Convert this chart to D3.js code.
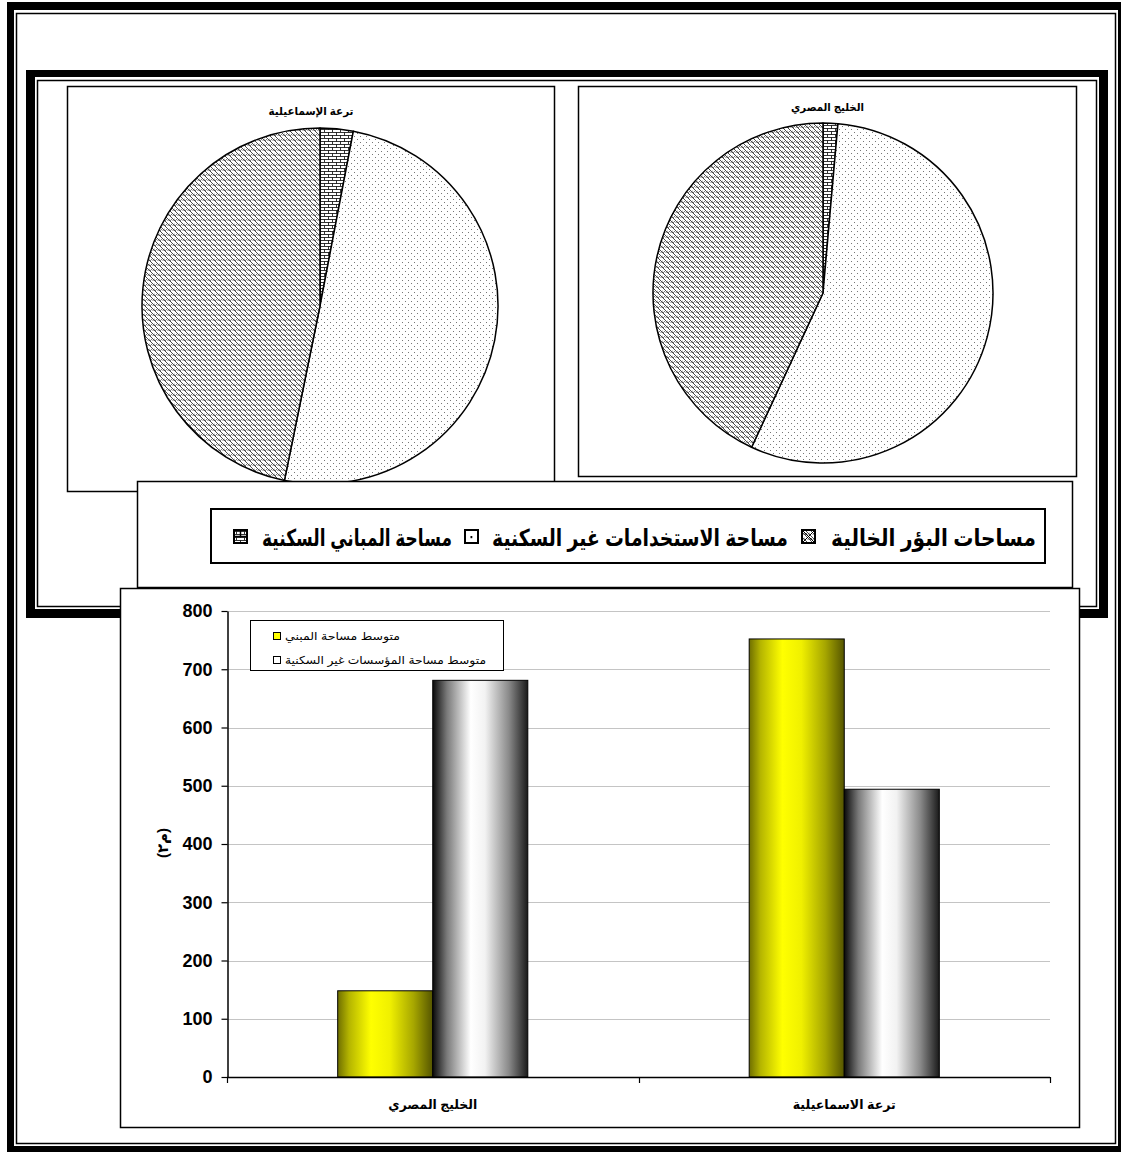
<!DOCTYPE html>
<html><head><meta charset="utf-8">
<script src="https://cdn.jsdelivr.net/npm/d3@7"></script>
<style>body{margin:0;background:#fff} svg{display:block}</style>
</head><body><svg id="c" width="1123" height="1154"></svg>
<script>
// ---------- data ----------
const pieTitles = ["ترعة الإسماعيلية", "الخليج المصري"];
const pieKeys = ["residential", "nonResidential", "vacant"];
const pieLegendLabels = ["مساحات البؤر الخالية", "مساحة الاستخدامات غير السكنية", "مساحة المباني السكنية"];
const ismailiaShares = [3.0, 50.2, 46.8];   // residential, non-residential, vacant (%)
const khaligShares = [1.4, 55.5, 43.1];
const barCategories = ["الخليج المصري", "ترعة الاسماعيلية"];
const barSeries = ["متوسط مساحة المبني", "متوسط مساحة المؤسسات غير السكنية"];
const avgBuilding = [148, 752];
const avgNonResidential = [681, 494];
const yTicks = [0, 100, 200, 300, 400, 500, 600, 700, 800];
const yLabel = "(م٢)";

const FONT = "Arial, 'Liberation Sans', 'DejaVu Sans', sans-serif";
const svg = d3.select("#c");
const defs = svg.append("defs");

// ---------- patterns ----------
const pBrick = defs.append("pattern").attr("id", "brick").attr("patternUnits", "userSpaceOnUse").attr("width", 8).attr("height", 6);
pBrick.append("rect").attr("width", 8).attr("height", 6).attr("fill", "#fff");
pBrick.append("path").attr("d", "M0,0.5H8M0,3.5H8M0.5,0.5V3.5M4.5,3.5V6").attr("stroke", "#000").attr("stroke-width", 0.8).attr("fill", "none");

const pDots = defs.append("pattern").attr("id", "dots").attr("patternUnits", "userSpaceOnUse").attr("width", 6).attr("height", 6);
pDots.append("rect").attr("width", 6).attr("height", 6).attr("fill", "#fff");
pDots.append("rect").attr("x", 1).attr("y", 1).attr("width", 1).attr("height", 1).attr("fill", "#777");
pDots.append("rect").attr("x", 4).attr("y", 4).attr("width", 1).attr("height", 1).attr("fill", "#777");

const pWeave = defs.append("pattern").attr("id", "weave").attr("patternUnits", "userSpaceOnUse").attr("width", 5).attr("height", 5);
pWeave.append("rect").attr("width", 5).attr("height", 5).attr("fill", "#fff");
pWeave.append("path").attr("d", "M0,0L5,5M-1,4L1,6M4,-1L6,1").attr("stroke", "#333").attr("stroke-width", 0.9);
pWeave.append("path").attr("d", "M0,5L2.5,2.5M2.5,5L5,2.5").attr("stroke", "#555").attr("stroke-width", 0.8);

const patternFor = {residential: "url(#brick)", nonResidential: "url(#dots)", vacant: "url(#weave)"};

// gradients for bars
function grad(id, stops) {
  const g = defs.append("linearGradient").attr("id", id).attr("x1", 0).attr("x2", 1).attr("y1", 0).attr("y2", 0);
  stops.forEach(s => g.append("stop").attr("offset", s[0]).attr("stop-color", s[1]));
}
grad("gY", [["0%", "#6f6f00"], ["12%", "#b5b500"], ["35%", "#ffff00"], ["55%", "#f0f000"], ["80%", "#a6a600"], ["100%", "#555500"]]);
grad("gG", [["0%", "#0a0a0a"], ["15%", "#7a7a7a"], ["40%", "#ffffff"], ["55%", "#f2f2f2"], ["80%", "#8a8a8a"], ["100%", "#1a1a1a"]]);

// ---------- frames ----------
const frame = svg.append("g");
function fillRect(x, y, w, h) { frame.append("rect").attr("x", x).attr("y", y).attr("width", w).attr("height", h).attr("fill", "#000"); }
function strokeRect(x, y, w, h, sw) { frame.append("rect").attr("x", x).attr("y", y).attr("width", w).attr("height", h).attr("fill", "none").attr("stroke", "#000").attr("stroke-width", sw); }
// outer
fillRect(7, 2, 1114, 8); fillRect(7, 2, 7, 1150); fillRect(7, 1146, 1114, 6); fillRect(1118, 2, 3, 1150);
strokeRect(16.5, 13.5, 1099, 1130, 1.5);
// inner
fillRect(26, 70, 1082, 7); fillRect(26, 70, 9, 548); fillRect(1099, 70, 9, 548); fillRect(26, 609, 1082, 9);
strokeRect(37.5, 80.5, 1059, 526, 1.5);

function panel(x, y, w, h, sw) {
  svg.append("rect").attr("x", x).attr("y", y).attr("width", w).attr("height", h)
    .attr("fill", "#fff").attr("stroke", "#000").attr("stroke-width", sw);
}

// ---------- pies ----------
const pieGen = d3.pie().sort(null).value(d => d.v);
const pies = [
  {title: pieTitles[0], shares: ismailiaShares, box: [67.5, 86.5, 487, 405], c: [320, 306], r: 178, tw: 85, ty: 115},
  {title: pieTitles[1], shares: khaligShares, box: [578.5, 86.5, 498, 390], c: [823, 293], r: 170, tw: 73, ty: 111}
];
pies.forEach(p => {
  panel(...p.box, 1.5);
  const g = svg.append("g").attr("transform", `translate(${p.c[0]},${p.c[1]})`);
  const arc = d3.arc().innerRadius(0).outerRadius(p.r);
  const data = pieKeys.map((k, i) => ({k, v: p.shares[i]}));
  g.selectAll("path").data(pieGen(data)).join("path")
    .attr("d", arc).attr("fill", d => patternFor[d.data.k])
    .attr("stroke", "#000").attr("stroke-width", 1.5).attr("stroke-linejoin", "round");
  svg.append("text").attr("x", p.box[0] + p.box[2] / 2).attr("y", p.ty)
    .attr("text-anchor", "middle").attr("font-family", FONT).attr("font-weight", "bold").attr("font-size", 11)
    .attr("textLength", p.tw).attr("lengthAdjust", "spacingAndGlyphs").text(p.title);
});

// ---------- pie legend ----------
panel(137.5, 481.5, 935, 106, 1.5);
svg.append("rect").attr("x", 211).attr("y", 509).attr("width", 834).attr("height", 54)
  .attr("fill", "#fff").attr("stroke", "#000").attr("stroke-width", 2);
const legItems = [
  {label: pieLegendLabels[0], key: "vacant", right: 1036, w: 205, mx: 802},
  {label: pieLegendLabels[1], key: "nonResidential", right: 788, w: 296, mx: 465},
  {label: pieLegendLabels[2], key: "residential", right: 452, w: 190, mx: 234}
];
const legendMarkerFill = {vacant: "url(#weave)", nonResidential: "#fff", residential: "url(#brick)"};
legItems.forEach(it => {
  svg.append("text").attr("transform", `translate(${it.right},546) scale(1,1.3)`).attr("text-anchor", "end")
    .attr("font-family", FONT).attr("font-weight", "bold").attr("font-size", 18)
    .attr("textLength", it.w).attr("lengthAdjust", "spacingAndGlyphs").text(it.label);
  svg.append("rect").attr("x", it.mx).attr("y", 530).attr("width", 13).attr("height", 13)
    .attr("fill", legendMarkerFill[it.key]).attr("stroke", "#000").attr("stroke-width", 2);
  if (it.key === "nonResidential") {
    svg.append("rect").attr("x", it.mx + 5.5).attr("y", 536).attr("width", 1.8).attr("height", 2.2).attr("fill", "#000");
  }
  if (it.key === "vacant") {
    svg.append("path").attr("d", `M${it.mx},530L${it.mx + 13},543M${it.mx + 13},530L${it.mx},543`).attr("stroke", "#000").attr("stroke-width", 1);
  }
  if (it.key === "residential") {
    svg.append("path").attr("d", `M${it.mx},536.5H${it.mx + 13}M${it.mx + 6.5},530V536.5`).attr("stroke", "#000").attr("stroke-width", 1.5);
  }
});

// ---------- bar chart ----------
panel(120.5, 588.5, 959, 539, 1.5);
const plot = {l: 227, r: 1050, t: 611, b: 1077};
const y = d3.scaleLinear().domain([0, 800]).range([plot.b, plot.t]);
const x0 = d3.scaleBand().domain(barCategories).range([plot.l, plot.r]);
const groupW = x0.bandwidth() * 0.462;
const x1 = d3.scaleBand().domain(barSeries).range([0, groupW]);

// gridlines
svg.append("g").selectAll("line").data(yTicks.filter(v => v > 0)).join("line")
  .attr("x1", plot.l).attr("x2", plot.r).attr("y1", d => Math.round(y(d)) + 0.5).attr("y2", d => Math.round(y(d)) + 0.5)
  .attr("stroke", "#c4c4c4").attr("stroke-width", 1);

const seriesVals = [avgBuilding, avgNonResidential];
const fills = ["url(#gY)", "url(#gG)"];
const bars = svg.append("g");
barCategories.forEach((c, ci) => {
  barSeries.forEach((s, si) => {
    const v = seriesVals[si][ci];
    bars.append("rect")
      .attr("x", x0(c) + (x0.bandwidth() - groupW) / 2 + x1(s))
      .attr("y", y(v)).attr("width", x1.bandwidth()).attr("height", y(0) - y(v))
      .attr("fill", fills[si]).attr("stroke", "#000").attr("stroke-width", 1);
  });
});

// y axis
const yAxis = svg.append("g").attr("transform", `translate(${plot.l + 0.5},0)`)
  .call(d3.axisLeft(y).tickValues(yTicks).tickSize(6).tickPadding(9).tickSizeOuter(0));
yAxis.select(".domain").attr("stroke", "#000").attr("stroke-width", 1.5);
yAxis.selectAll(".tick line").attr("stroke", "#000").attr("stroke-width", 1.2);
yAxis.selectAll("text").attr("font-family", FONT).attr("font-weight", "bold").attr("font-size", 18).attr("fill", "#000");

// x axis
svg.append("line").attr("x1", plot.l).attr("x2", plot.r).attr("y1", plot.b + 0.5).attr("y2", plot.b + 0.5)
  .attr("stroke", "#000").attr("stroke-width", 1.5);
const bounds = barCategories.map(c => x0(c)).concat([x0.range()[1]]);
svg.append("g").selectAll("line").data(bounds).join("line")
  .attr("x1", d => Math.round(d) + 0.5).attr("x2", d => Math.round(d) + 0.5)
  .attr("y1", plot.b).attr("y2", plot.b + 6).attr("stroke", "#000").attr("stroke-width", 1.2);
const xLabelW = [89, 103];
barCategories.forEach((c, i) => {
  svg.append("text").attr("x", x0(c) + x0.bandwidth() / 2).attr("y", 1109)
    .attr("text-anchor", "middle").attr("font-family", FONT).attr("font-weight", "bold").attr("font-size", 13)
    .attr("textLength", xLabelW[i]).attr("lengthAdjust", "spacingAndGlyphs").text(c);
});

// y label
svg.append("text").attr("transform", "translate(168,843) rotate(-90)")
  .attr("text-anchor", "middle").attr("font-family", FONT).attr("font-weight", "bold").attr("font-size", 15)
  .text(yLabel);

// bar legend
svg.append("rect").attr("x", 250.5).attr("y", 620.5).attr("width", 253).attr("height", 50)
  .attr("fill", "#fff").attr("stroke", "#000").attr("stroke-width", 1);
const legTextW = [115, 201];
const legMarkFill = ["#ffff00", "#ffffff"];
barSeries.forEach((s, i) => {
  const yy = 640 + i * 24;
  svg.append("rect").attr("x", 273.5).attr("y", yy - 7.5).attr("width", 7).attr("height", 7)
    .attr("fill", legMarkFill[i]).attr("stroke", "#000").attr("stroke-width", 1);
  svg.append("text").attr("x", 285).attr("y", yy).attr("text-anchor", "start")
    .attr("font-family", FONT).attr("font-size", 11)
    .attr("textLength", legTextW[i]).attr("lengthAdjust", "spacingAndGlyphs").text(s);
});
</script>
</body></html>
